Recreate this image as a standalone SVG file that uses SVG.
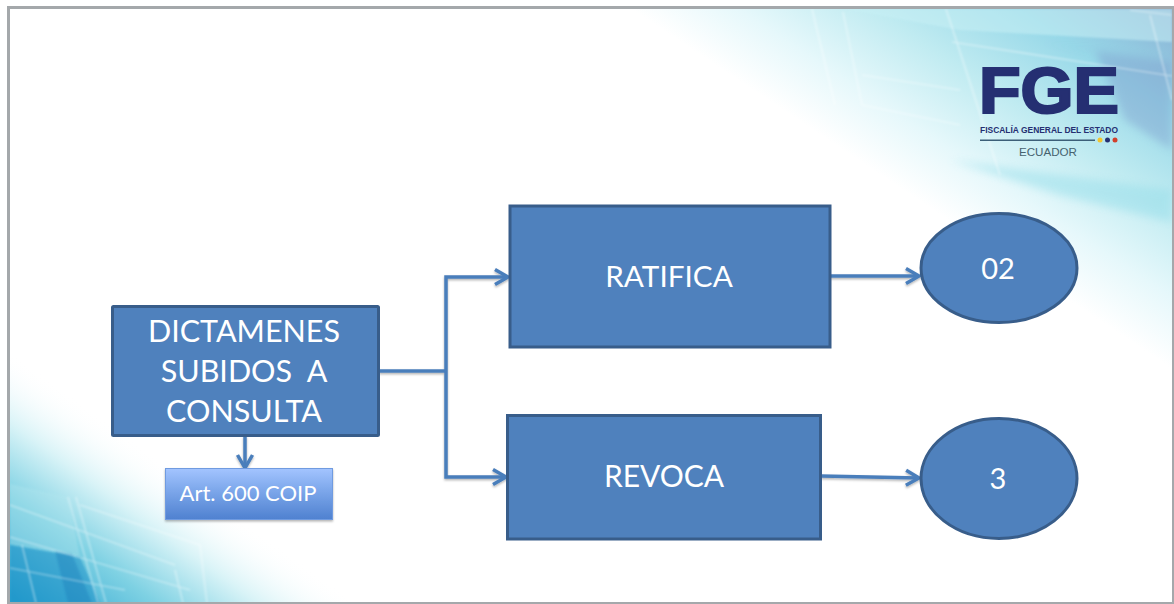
<svg xmlns="http://www.w3.org/2000/svg" width="1174" height="604" viewBox="0 0 1174 604">
<style>
.box{fill:#4f81bd;stroke:#385d8a;stroke-width:3}
.t{font-family:Lato,"Open Sans","Liberation Sans",sans-serif;fill:#fff;text-anchor:middle}
.c{fill:none;stroke:#4a7ebb;stroke-width:3.500}
.gl{fill:none;stroke:#fff;stroke-opacity:.5;stroke-width:1.200}
</style>
<defs>
<linearGradient id="tr" gradientUnits="userSpaceOnUse" x1="885" y1="178" x2="1050" y2="-70">
<stop offset="0" stop-color="#fff"/><stop offset=".2" stop-color="#e6f8fb"/><stop offset=".45" stop-color="#c0ebf1"/><stop offset=".72" stop-color="#97d8e8"/><stop offset="1" stop-color="#8ab0d4"/>
</linearGradient>
<linearGradient id="bl" gradientUnits="userSpaceOnUse" x1="175" y1="470" x2="59" y2="630">
<stop offset="0" stop-color="#fff" stop-opacity="0"/><stop offset=".3" stop-color="#d8f3f7"/><stop offset=".6" stop-color="#7ed1e3"/><stop offset="1" stop-color="#2aa3d0"/>
</linearGradient>
<linearGradient id="art" x1="0" y1="0" x2="0" y2="1">
<stop offset="0" stop-color="#a3c4ff"/><stop offset=".4" stop-color="#7fa9ec"/><stop offset="1" stop-color="#4f81d0"/>
</linearGradient>
<filter id="sh" filterUnits="userSpaceOnUse" x="0" y="0" width="1174" height="604"><feDropShadow dx="0" dy="1.500" stdDeviation="1.200" flood-color="#000" flood-opacity=".3"/></filter>
<filter id="bl6" filterUnits="userSpaceOnUse" x="0" y="0" width="1174" height="604"><feGaussianBlur stdDeviation="4"/></filter>
<filter id="bl1" filterUnits="userSpaceOnUse" x="0" y="0" width="1174" height="604"><feGaussianBlur stdDeviation="1"/></filter>
<marker id="ah" markerUnits="userSpaceOnUse" markerWidth="20" markerHeight="20" refX="16" refY="10" orient="auto"><path d="M3 2.500 L16 10 L3 17.500" fill="none" stroke="#4a7ebb" stroke-width="3.500"/></marker>
<clipPath id="slide"><rect x="10" y="9" width="1162" height="593"/></clipPath>
</defs>

<rect width="1174" height="604" fill="#fff"/>
<rect x="8.500" y="7.500" width="1164" height="595" fill="#fff" stroke="#a4a8ab" stroke-width="3"/>
<g id="background" clip-path="url(#slide)">
<rect x="9" y="8" width="1163" height="595" fill="url(#tr)"/>
<rect x="9" y="8" width="1163" height="595" fill="url(#bl)"/>
<polygon points="1035,42 1172,62 1172,150 1125,120 1095,50" fill="#7f9bcc" opacity=".42" filter="url(#bl6)"/>
<polygon points="845,9 1172,9 1172,42 960,30" fill="#c8f0f5" opacity=".55" filter="url(#bl1)"/>
<polygon points="950,160 1172,190 1172,222 1060,195" fill="#8fdbe8" opacity=".45" filter="url(#bl6)"/>
<polygon points="10,484 68,497 80,557 10,545" fill="#b5e7ef" opacity=".35" filter="url(#bl1)"/>
<polygon points="10,545 80,557 100,603 10,603" fill="#1a90c8" opacity=".5" filter="url(#bl1)"/>
<polygon points="55,551 72,554 92,603 68,603" fill="#1578b8" opacity=".35" filter="url(#bl1)"/>
<g filter="url(#bl1)"><path class="gl" d="M812 9 L835 105 M843 12 L862 105 M862 75 L960 90 M862 105 L960 125 M946 9 L1000 175 M952 42 L1172 76 M1130 10 L1172 15 M1150 15 L1172 100"/>
<path class="gl" d="M68 497 L98 603 M76 497 L106 603 M10 505 L175 565 M10 537 L190 590 M80 505 L200 545 L207 603 M175 570 L183 603 M10 568 L125 590 M22 545 L36 603"/></g>
</g>

<g id="logo">
<text x="979" y="113" font-family="'Liberation Sans',sans-serif" font-weight="700" font-size="64" fill="#252f72" stroke="#252f72" stroke-width="2.200" textLength="140" lengthAdjust="spacingAndGlyphs">FGE</text>
<text x="980" y="133" font-family="'Liberation Sans',sans-serif" font-weight="700" font-size="9" fill="#252f72" textLength="138" lengthAdjust="spacingAndGlyphs">FISCALÍA GENERAL DEL ESTADO</text>
<rect x="980" y="139.500" width="115" height="1.500" fill="#3c5f78"/>
<circle cx="1100" cy="140" r="2.500" fill="#f2c62f"/><circle cx="1107.500" cy="140" r="2.500" fill="#252f72"/><circle cx="1115" cy="140" r="2.500" fill="#d1402c"/>
<text x="1048" y="156" font-family="'Liberation Sans',sans-serif" font-size="10.500" fill="#46626f" text-anchor="middle" textLength="58" lengthAdjust="spacingAndGlyphs">ECUADOR</text>
</g>

<g id="connectors" filter="url(#sh)">
<path class="c" d="M379 371 H446"/>
<path class="c" d="M446 371 V277 H508" marker-end="url(#ah)"/>
<path class="c" d="M446 371 V477 H506" marker-end="url(#ah)"/>
<path class="c" d="M245 436 V468" marker-end="url(#ah)"/>
<path class="c" d="M830 276 H919" marker-end="url(#ah)"/>
<path class="c" d="M821 476 L919 478" marker-end="url(#ah)"/>
</g>

<g id="dictamenes"><rect class="box" x="112.500" y="306.500" width="266" height="129" rx="1"/>
<g class="t" font-size="30.500"><text x="244" y="342">DICTAMENES</text><text x="244" y="382" xml:space="preserve">SUBIDOS  A</text><text x="244" y="422">CONSULTA</text></g></g>
<g id="art600"><rect x="165.500" y="468.500" width="167" height="51" fill="url(#art)" stroke="#6f9be0" stroke-width="1" filter="url(#sh)"/>
<text class="t" x="248" y="501" font-size="22">Art. 600 COIP</text></g>
<g id="ratifica"><rect class="box" x="510" y="206" width="320" height="141"/>
<text class="t" x="669" y="287" font-size="29.700">RATIFICA</text></g>
<g id="revoca"><rect class="box" x="507.500" y="415.500" width="313" height="123.500"/>
<text class="t" x="664" y="487" font-size="30">REVOCA</text></g>
<g id="n02"><ellipse class="box" cx="999" cy="268" rx="78" ry="54.500"/>
<text class="t" x="998" y="279" font-size="29">02</text></g>
<g id="n3"><ellipse class="box" cx="999" cy="478.500" rx="78" ry="60"/>
<text class="t" x="998" y="489" font-size="29">3</text></g>
</svg>
